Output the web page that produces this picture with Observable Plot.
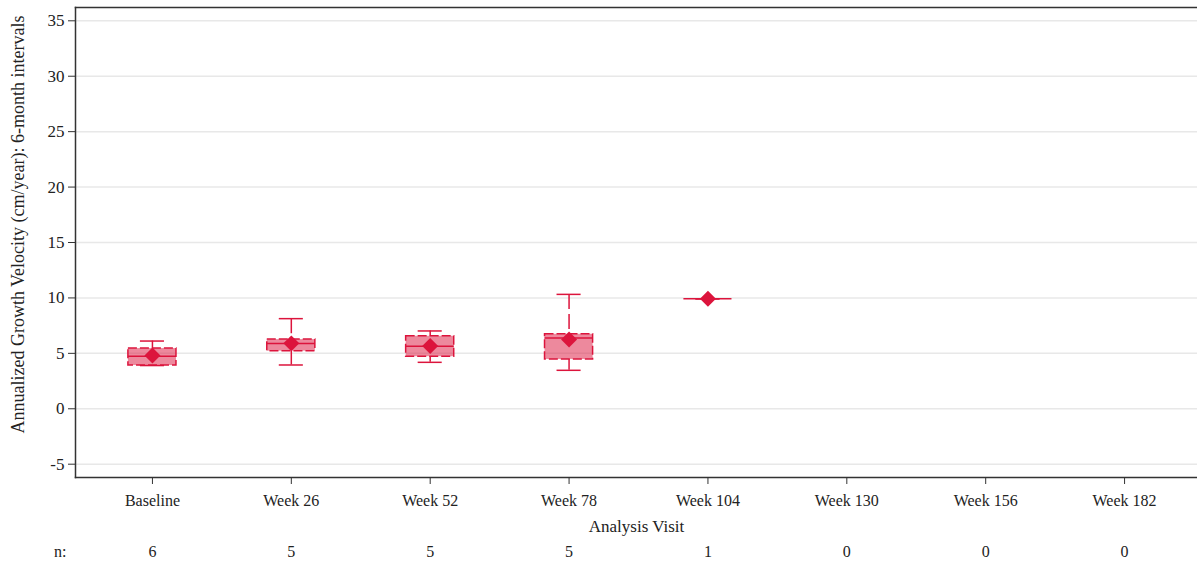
<!DOCTYPE html>
<html>
<head>
<meta charset="utf-8">
<script src="https://cdn.jsdelivr.net/npm/d3@7"></script>
<script src="https://cdn.jsdelivr.net/npm/@observablehq/plot@0.6"></script>
<style>
  html, body { margin: 0; padding: 0; background: #fff; }
  #chart svg { display: block; }
</style>
</head>
<body>
<div id="chart"></div>
<script>
// ---- data ----
const visits = ["Baseline", "Week 26", "Week 52", "Week 78", "Week 104", "Week 130", "Week 156", "Week 182"];
const nCounts = [6, 5, 5, 5, 1, 0, 0, 0];
const statVisits = ["Baseline", "Week 26", "Week 52", "Week 78", "Week 104"];
const minVals = [3.9, 3.95, 4.19, 3.47, 9.92];
const q1Vals = [3.9, 5.2, 4.7, 4.45, 9.92];
const medianVals = [4.73, 5.88, 5.64, 6.39, 9.92];
const q3Vals = [5.43, 6.24, 6.54, 6.72, 9.92];
const maxVals = [6.11, 8.13, 7.02, 10.32, 9.92];
const meanVals = [4.8, 5.9, 5.66, 6.24, 9.92];
const yTicks = [-5, 0, 5, 10, 15, 20, 25, 30, 35];
const yLabel = "Annualized Growth Velocity (cm/year): 6-month intervals";
const xLabel = "Analysis Visit";

const stats = statVisits.map((v, i) => ({
  visit: v, min: minVals[i], q1: q1Vals[i], median: medianVals[i],
  q3: q3Vals[i], max: maxVals[i], mean: meanVals[i]
}));
const nRows = visits.map((v, i) => ({visit: v, n: nCounts[i]}));

const red = "#dc143c";
const font = "Liberation Serif, Times New Roman, serif";

const chart = Plot.plot({
  width: 1197,
  height: 561,
  marginTop: 7,
  marginBottom: 84,
  marginLeft: 75,
  marginRight: 0,
  style: {fontFamily: font, fontSize: "16px", color: "#222", background: "#fff", overflow: "visible"},
  x: {type: "band", domain: visits, range: [82.5, 1193.5], padding: 0, round: false},
  y: {domain: [-6.2, 36.2]},
  marks: [
    Plot.gridY(yTicks, {stroke: "#e8e8e8", strokeOpacity: 1, strokeWidth: 1.5}),
    Plot.frame({anchor: "left", stroke: "#333", strokeWidth: 1.5}),
    Plot.frame({anchor: "bottom", stroke: "#333", strokeWidth: 1.5}),
    Plot.frame({anchor: "top", stroke: "#333", strokeWidth: 1.5}),
    Plot.axisY({ticks: yTicks, tickSize: 7, tickPadding: 4, label: null, fontSize: 17, stroke: "#333", tickFormat: d => String(d)}),
    Plot.axisX({tickSize: 7, tickPadding: 10, label: null, fontSize: 16, stroke: "#333"}),
    // whiskers
    Plot.ruleX(stats, {x: "visit", y1: "max", y2: "q3", stroke: red, strokeWidth: 1.5, strokeDasharray: "15,5"}),
    Plot.ruleX(stats, {x: "visit", y1: "min", y2: "q1", stroke: red, strokeWidth: 1.5, strokeDasharray: "15,5"}),
    Plot.tickY(stats, {x: "visit", y: "max", stroke: red, strokeWidth: 1.5, insetLeft: 57.4, insetRight: 57.4}),
    Plot.tickY(stats, {x: "visit", y: "min", stroke: red, strokeWidth: 1.5, insetLeft: 57.4, insetRight: 57.4}),
    // boxes
    Plot.barY(stats, {x: "visit", y1: "q1", y2: "q3", fill: red, fillOpacity: 0.5, stroke: red, strokeWidth: 1.5, strokeDasharray: "9,3", insetLeft: 45.4, insetRight: 45.4}),
    Plot.tickY(stats, {x: "visit", y: "median", stroke: red, strokeWidth: 1.5, insetLeft: 45.4, insetRight: 45.4}),
    // means
    Plot.dot(stats, {x: "visit", y: "mean", symbol: "diamond2", r: 7.2, fill: red, stroke: "none"}),
    // labels
    Plot.text([yLabel], {frameAnchor: "left", textAnchor: "middle", lineAnchor: "middle", rotate: -90, dx: -57, dy: -18, fontSize: 18, fill: "#222"}),
    Plot.text([xLabel], {frameAnchor: "bottom", lineAnchor: "middle", dy: 49, fontSize: 17, fill: "#222"}),
    Plot.text(["n:"], {frameAnchor: "bottom-left", lineAnchor: "middle", dx: -9, dy: 74, textAnchor: "end", fontSize: 16, fill: "#222"}),
    Plot.text(nRows, {x: "visit", text: "n", frameAnchor: "bottom", lineAnchor: "middle", dy: 74, fontSize: 16, fill: "#222"})
  ]
});
document.getElementById("chart").append(chart);
</script>
</body>
</html>
